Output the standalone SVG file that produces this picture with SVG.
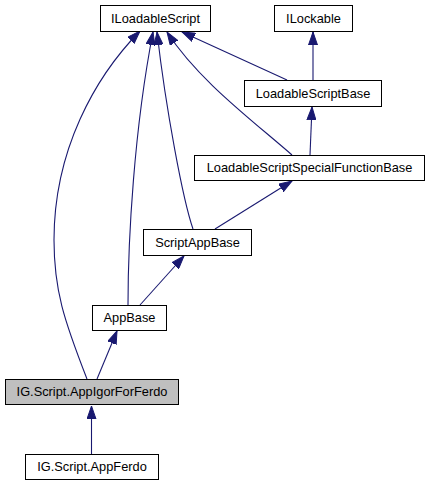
<svg xmlns="http://www.w3.org/2000/svg" width="430" height="485" viewBox="0 0 430 485">
<style>
.box{fill:#ffffff;stroke:#000000;stroke-width:1}
.cur{fill:#bfbfbf;stroke:#000000;stroke-width:1}
.lbl{font-family:"Liberation Sans",Arial,sans-serif;font-size:12.8px;fill:#000000;text-anchor:middle}
.edge{fill:none;stroke:#191970;stroke-width:1.1;marker-end:url(#arr)}
</style>
<defs>
<marker id="arr" markerUnits="userSpaceOnUse" markerWidth="14" markerHeight="10" refX="13" refY="5" orient="auto" viewBox="0 0 14 10">
<path d="M0,0.5 L13,5 L0,9.5 z" fill="#191970" stroke="#191970" stroke-width="1"/>
</marker>
</defs>
<rect width="430" height="485" fill="#ffffff"/>
<g id="connectors">
<path class="edge" d="M313,80 L313,32"/>
<path class="edge" d="M287,80 L182,32"/>
<path class="edge" d="M310,155 L312,107"/>
<path class="edge" d="M292,155 C252,120 198,80 167,32"/>
<path class="edge" d="M215,229 L292,181"/>
<path class="edge" d="M193,229 C183,200 166,110 157,32"/>
<path class="edge" d="M140,305 L184,256"/>
<path class="edge" d="M128,305 C128,240 134,130 153,32"/>
<path class="edge" d="M97,379 L117,331"/>
<path class="edge" d="M87,379 C64,320 54,290 54,240 C54,150 95,77 140,31"/>
<path class="edge" d="M91.5,454 L91.5,406"/>
</g>
<g id="ILoadableScript"><rect class="box" x="100.5" y="5.5" width="110" height="26"/><text class="lbl" x="155.5" y="23">ILoadableScript</text></g>
<g id="ILockable"><rect class="box" x="274.5" y="5.5" width="78" height="26"/><text class="lbl" x="313.5" y="23">ILockable</text></g>
<g id="LoadableScriptBase"><rect class="box" x="244.5" y="80.5" width="137" height="26"/><text class="lbl" x="313" y="98">LoadableScriptBase</text></g>
<g id="LoadableScriptSpecialFunctionBase"><rect class="box" x="194.5" y="155.5" width="230" height="25"/><text class="lbl" x="309.5" y="172">LoadableScriptSpecialFunctionBase</text></g>
<g id="ScriptAppBase"><rect class="box" x="143.5" y="229.5" width="108" height="26"/><text class="lbl" x="197.5" y="247">ScriptAppBase</text></g>
<g id="AppBase"><rect class="box" x="92.5" y="305.5" width="74" height="25"/><text class="lbl" x="129.5" y="322">AppBase</text></g>
<g id="AppIgorForFerdo"><rect class="cur" x="5.5" y="379.5" width="173" height="25"/><text class="lbl" x="92" y="396">IG.Script.AppIgorForFerdo</text></g>
<g id="AppFerdo"><rect class="box" x="25.5" y="454.5" width="133" height="25"/><text class="lbl" x="92" y="471">IG.Script.AppFerdo</text></g>
</svg>
